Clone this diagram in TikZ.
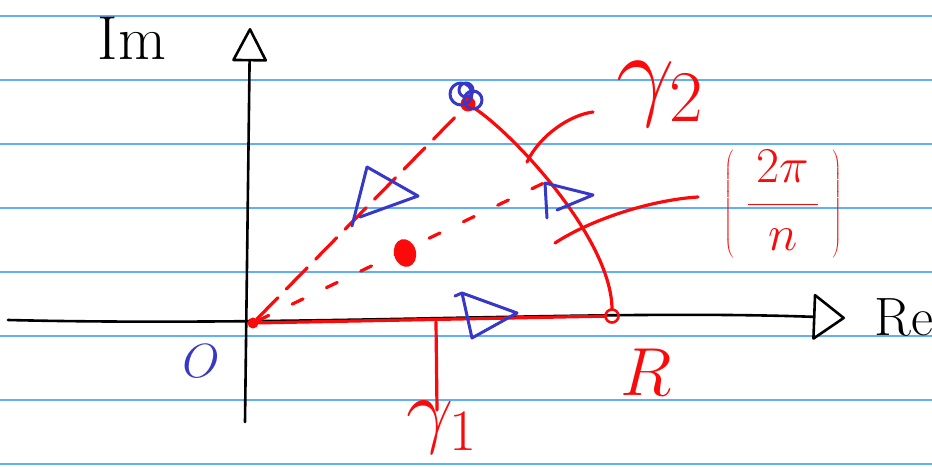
\documentclass[tikz,border=0pt]{standalone}
\usepackage{fix-cm}
\usetikzlibrary{arrows.meta,shapes.geometric}
\definecolor{paper}{RGB}{95,175,250}
\definecolor{pen}{RGB}{250,10,10}
\definecolor{ink}{RGB}{55,55,200}
\newcommand{\handsize}[1]{\fontsize{#1}{#1}\selectfont}
\begin{document}
\begin{tikzpicture}
	[x=1pt,y=-1pt,
	every node/.style={inner sep=1pt,outer sep=0},
	ruled/.style={line width=1.6pt,color=paper},
	axis/.style={line width=2.6pt,line cap=round},
	side/.style={line width=3.2pt,color=pen,line cap=round},
	guess/.style={side,dash pattern=on 30pt off 12pt},
	ray/.style={side,dash pattern=on 12pt off 26pt},
	marker/.style={line width=3pt,color=ink,line join=round,line cap=round},
	vertex/.style={shape=circle,fill=pen,minimum size=11pt,inner sep=0},
	corner/.style={shape=circle,draw=pen,line width=2.6pt,minimum size=13pt,inner sep=0},
	centre/.style={shape=ellipse,fill=pen,minimum width=22pt,minimum height=28pt,inner sep=0}]
	\fill[white] (0,0) rectangle (932,468);
	\useasboundingbox (0,0) rectangle (932,468);
	\foreach \y in {16,80,...,464}
		\draw[ruled] (0,\y) -- (932,\y);
	% axes
	\coordinate (re0) at (8,320);
	\coordinate (re1) at (845,318);
	\coordinate (im0) at (245,422);
	\coordinate (im1) at (250,28);
	\draw[axis,-{Triangle[open,length=33pt,width=48pt,round]}]
		(re0) .. controls (300,327) and (600,309) .. (re1);
	\draw[axis,-{Triangle[open,length=35pt,width=36pt,round]}] (im0) -- (im1);
	\node[font=\handsize{62}] (lim) at (132,38) {Im};
	\node[font=\handsize{54}] (lre) at (904,317) {Re};
	% points
	\node[vertex] (o) at (253,323) {};
	\node[corner] (r) at (612,316) {};
	\node[vertex,minimum size=15pt] (a) at (468,104) {};
	\node[centre,rotate=15] (c) at (405,253) {};
	\coordinate (m) at (548,181);
	% contour
	\draw[side] (o) -- (r);
	\draw[side] (a) .. controls (515,135) and (612,240) .. (r);
	\draw[guess] (o) -- (a);
	\draw[ray] (o) -- (m);
	\draw[marker] (461,94) circle (11) (473,100) circle (9) (466,90) circle (7);
	% orientation marks
	\draw[marker]
		(367,167) -- (352,226) (367,167) -- (418,196) -- (360,217)
		(545,183) -- (547,218) (545,183) -- (593,195) -- (557,210)
		(455,296) -- (462,293) -- (472,338) -- (517,313) -- (462,293);
	% labels
	\node[ink,font=\handsize{48}] (lo) at (201,361) {$O$};
	\node[pen,font=\handsize{68}] (lr) at (646,372) {$R$};
	\coordinate (g1a) at (436,322);
	\coordinate (g1b) at (437,410);
	\node[pen,font=\handsize{84}] (lg1) at (442,428) {$\gamma_1$};
	\coordinate (g2a) at (527,162);
	\coordinate (g2b) at (593,112);
	\node[pen,font=\handsize{104}] (lg2) at (660,94) {$\gamma_2$};
	\coordinate (ta) at (555,243);
	\coordinate (tb) at (698,197);
	\node[pen,font=\handsize{50}] (lt) at (783,204)
		{$\displaystyle\left(\;\frac{\,2\pi\,}{n}\;\right)$};
	\draw[side] (g1a) -- (g1b);
	\draw[side] (g2a) .. controls (540,135) and (570,115) .. (g2b);
	\draw[side] (ta) .. controls (590,220) and (650,200) .. (tb);
\end{tikzpicture}
\end{document}
